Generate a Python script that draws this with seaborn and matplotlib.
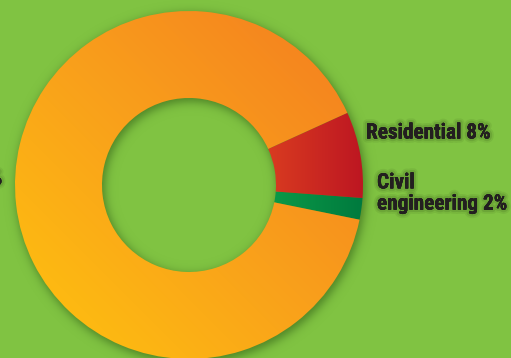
import numpy as np
import matplotlib
matplotlib.use("Agg")
import matplotlib.pyplot as plt
import matplotlib.patheffects as pe
from matplotlib import font_manager
import seaborn as sns

# Share of construction output by sector (%)
sectors = ["Civil\nengineering", "Residential", "Non-residential"]
shares = [2, 8, 90]
label_texts = ["Civil\nengineering 2%", "Residential 8%", "Non-residential 90%"]

BG = "#80C342"
TEXT = "#231F20"

sns.set_theme(style="white", rc={"axes.facecolor": BG, "figure.facecolor": BG})

# pick a condensed bold face for the labels
entries = font_manager.fontManager.ttflist
names = {f.name for f in entries}
stretch = "normal"
family = "DejaVu Sans"
for cand in ["Roboto Condensed", "Liberation Sans Narrow", "Open Sans Condensed"]:
    if cand in names:
        family = cand
        break
else:
    if any(f.name == "DejaVu Sans" and f.stretch == "condensed" for f in entries):
        stretch = "condensed"
plt.rcParams["font.family"] = [family, "DejaVu Sans"]

W, H = 511, 358
fig = plt.figure(figsize=(W / 100, H / 100), dpi=100)
ax = fig.add_axes([0, 0, 1, 1])

cx, cy_img = 189, 185
R, r = 174, 87
cy = H - cy_img

wedges, _ = ax.pie(
    shares, startangle=-11.5, counterclock=True, radius=R, center=(cx, cy),
    wedgeprops=dict(width=R - r, facecolor="none", edgecolor="none", linewidth=0),
    frame=False,
)
ax.set_xlim(0, W)
ax.set_ylim(0, H)
ax.set_aspect("equal")
ax.axis("off")
fig.patch.set_facecolor(BG)

# pixel grid in image coordinates (row 0 = top)
xs = np.arange(W) + 0.5
ys = np.arange(H) + 0.5
X, Y = np.meshgrid(xs, ys)

# soft drop shadow of the ring, offset down-right
d = np.hypot(X - (cx + 2), Y - (cy_img + 3))
s = 2.8
ring = 1 / (1 + np.exp(-(R + 1 - d) / s)) * 1 / (1 + np.exp(-(d - (r - 1)) / s))
shadow = np.zeros((H, W, 4))
shadow[..., 0] = 0.12
shadow[..., 1] = 0.28
shadow[..., 2] = 0.05
shadow[..., 3] = 0.5 * ring
ax.imshow(shadow, extent=(0, W, 0, H), origin="upper", zorder=1, interpolation="bilinear")

# gradient fills clipped to each wedge
diag = ((X - 15) * 348 + (358 - Y) * 346) / (348 ** 2 + 346 ** 2)
horiz = (X - 267) / (363 - 267)
fills = [
    (sns.blend_palette(["#0C9B48", "#007A3E"], as_cmap=True), horiz),
    (sns.blend_palette(["#D93C20", "#BD1622"], as_cmap=True), horiz),
    (sns.blend_palette(["#FFC40E", "#F9A01B", "#F47C20"], as_cmap=True), diag),
]
for wedge, (cmap, t) in zip(wedges, fills):
    img = cmap(np.clip(t, 0, 1))
    im = ax.imshow(img, extent=(0, W, 0, H), origin="upper", zorder=2,
                   interpolation="bilinear")
    im.set_clip_path(wedge)

glow = [pe.withStroke(linewidth=6, foreground=(0.1, 0.2, 0.05, 0.08)),
        pe.withStroke(linewidth=3.5, foreground=(0.1, 0.2, 0.05, 0.12)),
        pe.Normal()]

style = dict(fontsize=15.3, fontweight="bold", fontstretch=stretch, color=TEXT,
             path_effects=glow, zorder=5)
ax.text(366, H - 133, label_texts[1], ha="left", va="center", **style)
ax.text(377, H - 193.5, label_texts[0], ha="left", va="center", linespacing=1.15, **style)
ax.text(2.5, H - 179, label_texts[2], ha="right", va="center", **style)

fig.savefig("out.png", dpi=100, facecolor=BG)
